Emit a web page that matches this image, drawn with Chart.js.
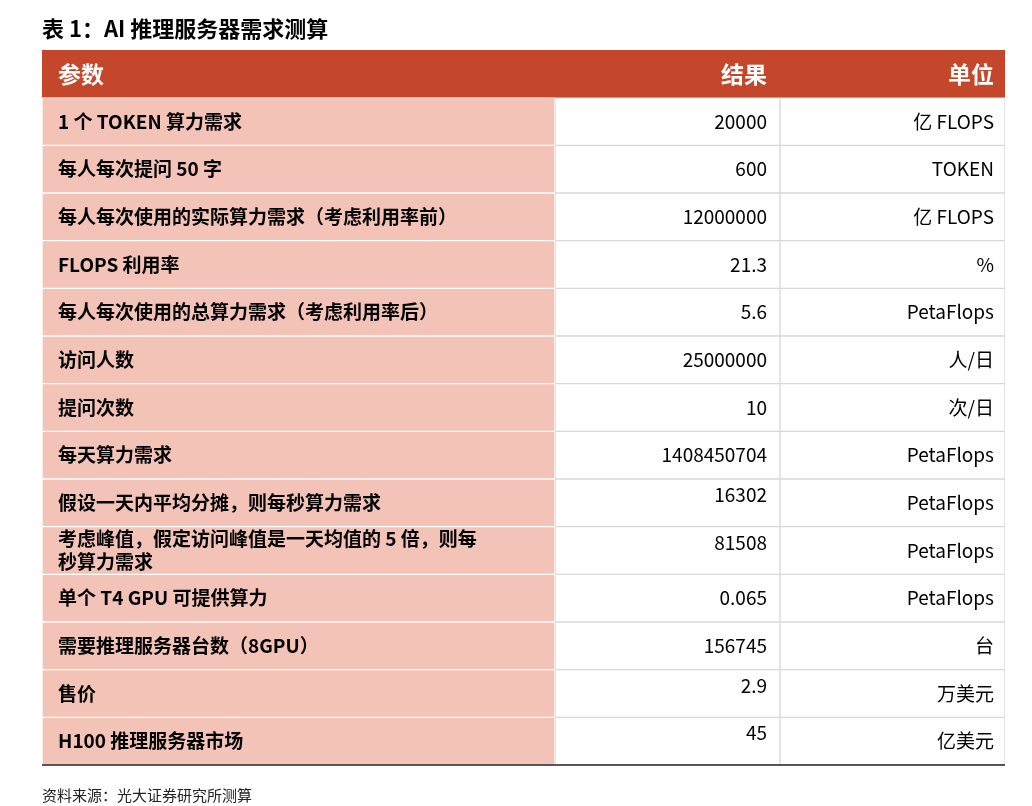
<!DOCTYPE html>
<html><head><meta charset="utf-8">
<script src="https://cdn.jsdelivr.net/npm/chart.js@4.4.1/dist/chart.umd.min.js"></script>
<style>html,body{margin:0;background:#fff}#w{width:1032px;height:806px}</style>
</head><body><div id="w"><canvas id="c"></canvas></div>
<script>
const titleText = '表 1：AI 推理服务器需求测算';
const sourceText = '资料来源：光大证券研究所测算';
const headers = ['参数', '结果', '单位'];
const params = ['1 个 TOKEN 算力需求','每人每次提问 50 字','每人每次使用的实际算力需求（考虑利用率前）','FLOPS 利用率','每人每次使用的总算力需求（考虑利用率后）','访问人数','提问次数','每天算力需求','假设一天内平均分摊，则每秒算力需求','考虑峰值，假定访问峰值是一天均值的 5 倍，则每\n秒算力需求','单个 T4 GPU 可提供算力','需要推理服务器台数（8GPU）','售价','H100 推理服务器市场'];
const results = ['20000','600','12000000','21.3','5.6','25000000','10','1408450704','16302','81508','0.065','156745','2.9','45'];
const units = ['亿 FLOPS','TOKEN','亿 FLOPS','%','PetaFlops','人/日','次/日','PetaFlops','PetaFlops','PetaFlops','PetaFlops','台','万美元','亿美元'];
const raisedResult = [false,false,false,false,false,false,false,false,true,true,false,false,true,true];
const colEdges = [0, 513, 738, 963];

const rowLabels = ['hdr', ...params.map((_, i) => 'r' + i)];
const FONT = '"Noto Sans CJK SC","Noto Sans",sans-serif';
const datasets = [0,1,2].map(c => ({
  data: rowLabels.map(() => [colEdges[c], colEdges[c+1]]),
  backgroundColor: rowLabels.map((_, r) => r === 0 ? '#c5472b' : (c === 0 ? '#f4c3b7' : '#ffffff')),
  borderColor: rowLabels.map((_, r) => r === 0 ? '#c5472b' : (c === 0 ? '#ffffff' : '#d8d8d8')),
  borderWidth: 1, borderSkipped: false,
  barPercentage: 1, categoryPercentage: 1, grouped: false
}));

const textPlugin = {
  id: 'txt',
  afterDraw(chart) {
    const ctx = chart.ctx, x = chart.scales.x, y = chart.scales.y, a = chart.chartArea;
    ctx.save();
    ctx.fillStyle = '#000'; ctx.textBaseline = 'middle'; ctx.textAlign = 'left';
    ctx.font = 'bold 22px ' + FONT; ctx.fillText(titleText, 42, 29);
    ctx.font = '15px ' + FONT; ctx.fillStyle = '#222'; ctx.fillText(sourceText, 42, 795);
    const x0 = x.getPixelForValue(colEdges[0]), x2 = x.getPixelForValue(colEdges[2]), x3 = x.getPixelForValue(colEdges[3]);
    let yh = y.getPixelForValue(0);
    ctx.fillStyle = '#fff'; ctx.font = 'bold 23px ' + FONT;
    ctx.textAlign = 'left'; ctx.fillText(headers[0], x0 + 16, yh);
    ctx.textAlign = 'right'; ctx.fillText(headers[1], x2 - 13, yh); ctx.fillText(headers[2], x3 - 11, yh);
    ctx.fillStyle = '#000';
    params.forEach((p, i) => {
      const yc = y.getPixelForValue(i + 1);
      ctx.font = 'bold 19px ' + FONT; ctx.textAlign = 'left';
      const lines = p.split('\n');
      lines.forEach((l, k) => ctx.fillText(l, x0 + 16, yc + (k - (lines.length - 1) / 2) * 23));
      ctx.font = '19px ' + FONT; ctx.textAlign = 'right';
      ctx.fillText(results[i], x2 - 13, yc - (raisedResult[i] ? 8 : 0));
      ctx.fillText(units[i], x3 - 11, yc);
    });
    ctx.strokeStyle = '#222'; ctx.lineWidth = 1.5;
    ctx.beginPath(); ctx.moveTo(a.left, a.bottom); ctx.lineTo(a.right, a.bottom); ctx.stroke();
    ctx.restore();
  }
};

new Chart(document.getElementById('c'), {
  type: 'bar',
  data: { labels: rowLabels, datasets },
  options: {
    indexAxis: 'y', responsive: true, maintainAspectRatio: false, animation: false,
    layout: { padding: { left: 42, right: 27, top: 50, bottom: 41 } },
    plugins: { legend: { display: false }, tooltip: { enabled: false } },
    scales: {
      x: { type: 'linear', min: 0, max: 963, display: false },
      y: { type: 'category', display: false, offset: true }
    }
  },
  plugins: [textPlugin]
});
</script></body></html>
